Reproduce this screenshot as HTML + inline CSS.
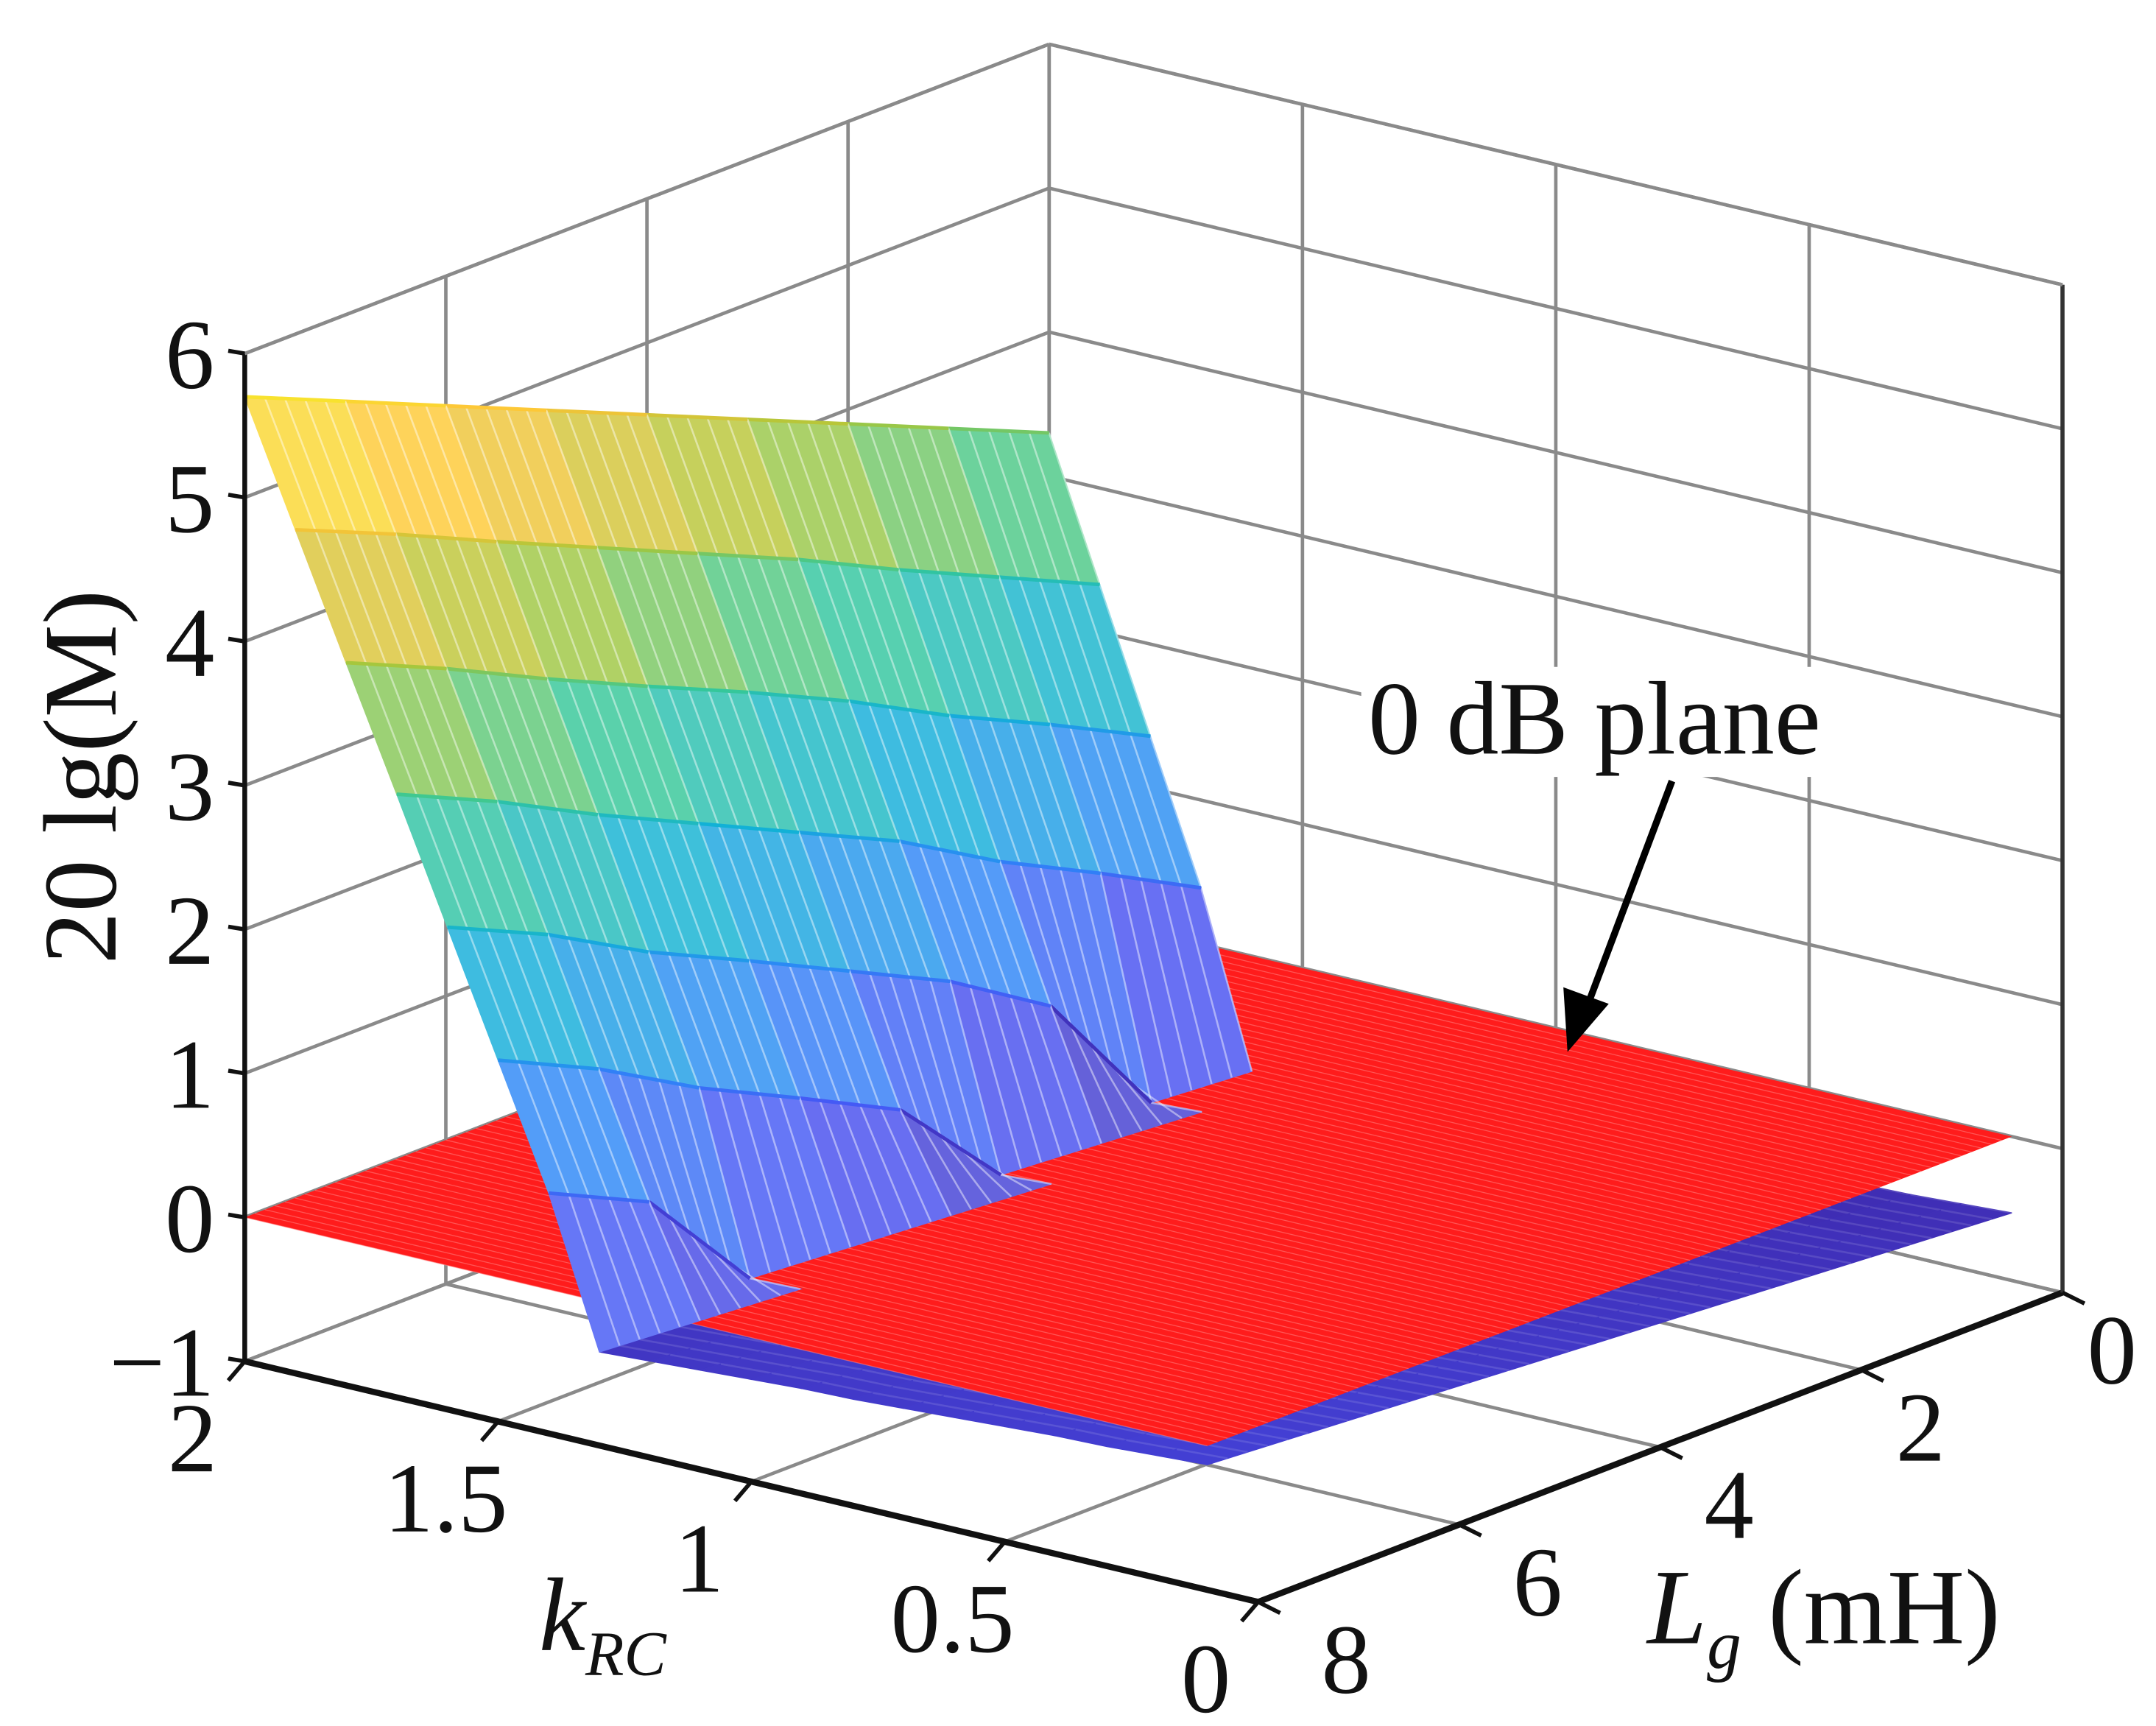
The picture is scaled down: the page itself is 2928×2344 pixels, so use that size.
<!DOCTYPE html>
<html><head><meta charset="utf-8"><style>
html,body{margin:0;padding:0;background:#fff;}
svg{display:block;}
text{font-family:"Liberation Serif",serif;fill:#111;}
</style></head><body>
<svg id="chart" width="2928" height="2344" viewBox="0 0 1568 1255.2" xmlns="http://www.w3.org/2000/svg">
<g id="grid"></g>
<g id="surf"></g>
<g id="axes"></g>
<text transform="translate(84,565) rotate(-90)" text-anchor="middle" font-size="76">20 lg(M)</text>
<text x="392" y="1200" font-size="76" font-style="italic">k<tspan font-size="46" dy="18">RC</tspan></text>
<text x="1198" y="1195" font-size="78"><tspan font-style="italic">L</tspan><tspan font-style="italic" font-size="50" dy="18">g</tspan><tspan dy="-18"> (mH)</tspan></text>
<rect x="990" y="485" width="345" height="80" fill="#fff"/>
<text x="995" y="548" font-size="76">0 dB plane</text>
<line x1="1216" y1="568" x2="1155" y2="730" stroke="#000" stroke-width="5"/>
<polygon points="1140,765 1137,718 1170,730" fill="#000"/>
</svg>
<script>
const kVals=[0.1,0.2,0.3,0.4,0.5,0.6,0.7,0.8,0.9,1.0,1.1,1.2,1.3,1.4,1.5,1.6,1.7,1.8,1.9,2.0];
const LVals=[0,1,2,3,4,5,6,7,8];
// zData[i][j] : L = LVals[i], k = kVals[j]
const zData=[
[-.53,-.55,-.57,-.58,-.60,-.62,-.64,-.66,-.67,-.69,-.71,-.73,-.75,-.76,-.78,-.80,.39,1.36,2.33,3.3],
[-.48,-.50,-.52,-.53,-.55,-.57,-.59,-.61,-.62,-.64,-.66,-.68,-.70,-.71,-.73,-.75,.76,1.71,2.65,3.6],
[-.43,-.45,-.47,-.48,-.50,-.52,-.54,-.56,-.57,-.59,-.61,-.63,-.65,-.66,-.68,.19,1.11,2.04,2.97,3.9],
[-.38,-.40,-.42,-.43,-.45,-.47,-.49,-.51,-.52,-.54,-.56,-.58,-.60,-.61,-.63,.63,1.52,2.41,3.31,4.2],
[-.33,-.35,-.37,-.38,-.40,-.42,-.44,-.46,-.47,-.49,-.51,-.53,-.55,-.56,.09,.97,1.85,2.74,3.62,4.5],
[-.28,-.30,-.32,-.33,-.35,-.37,-.39,-.41,-.42,-.44,-.46,-.48,-.50,-.51,.44,1.31,2.18,3.05,3.93,4.8],
[-.23,-.25,-.27,-.28,-.30,-.32,-.34,-.36,-.37,-.39,-.41,-.43,-.45,-.46,.78,1.64,2.51,3.37,4.24,5.1],
[-.18,-.20,-.22,-.23,-.25,-.27,-.29,-.31,-.32,-.34,-.36,-.38,-.40,.34,1.18,2.03,2.87,3.71,4.56,5.4],
[-.13,-.15,-.17,-.18,-.20,-.22,-.24,-.26,-.27,-.29,-.31,-.33,-.35,.67,1.51,2.35,3.19,4.02,4.86,5.7]
];
const zTicks=[6,5,4,3,2,1,0,-1];
const zTickLabels=["6","5","4","3","2","1","0","\u22121"];
const kTicks=[2,1.5,1,0.5,0];
const kTickLabels=["2","1.5","1","0.5","0"];
const LTicks=[8,6,4,2,0];
const LTickLabels=["8","6","4","2","0"];
const planeZ=0;

const NS="http://www.w3.org/2000/svg";
function P(k,L,z){const u=(2-k)/2,v=(8-L)/8;return [178+737*u+585*v, 990+175*u-225*v-(z+1)*104.7];}
function mk(tag,attrs,parent){const e=document.createElementNS(NS,tag);for(const a in attrs)e.setAttribute(a,attrs[a]);parent.appendChild(e);return e;}
const grid=document.getElementById('grid'),surf=document.getElementById('surf'),axes=document.getElementById('axes');
const G='#8a8a8a';
function ln(a,b,parent,col,w,name){const e=mk('line',{x1:a[0],y1:a[1],x2:b[0],y2:b[1],stroke:col,'stroke-width':w},parent);

return e;}
for(const z of zTicks){ln(P(2,8,z),P(2,0,z),grid,G,2.5,'grid-line-z-left-wall');ln(P(2,0,z),P(0,0,z),grid,G,2.5,'grid-line-z-back-wall');}
for(const L of LTicks){ln(P(2,L,-1),P(2,L,6),grid,G,2.5,'grid-line-l-left-wall');ln(P(2,L,-1),P(0,L,-1),grid,G,2.5,'grid-line-l-floor');}
for(const k of kTicks){ln(P(k,0,-1),P(k,0,6),grid,G,2.5,'grid-line-k-back-wall');ln(P(k,0,-1),P(k,8,-1),grid,G,2.5,'grid-line-k-floor');}
const par=[[0.2422,0.1504,0.6603],[0.2810,0.3228,0.9579],[0.1786,0.5289,0.9682],[0.0689,0.6948,0.8394],[0.2161,0.7843,0.5923],[0.6720,0.7793,0.2227],[0.9970,0.7659,0.2199],[0.9657,0.9309,0.1639],[0.9769,0.9839,0.0805]];
function cmap(z,wm){let t=(z+1)/7.6;t=Math.max(0,Math.min(1,t))*(par.length-1);const i=Math.min(par.length-2,Math.floor(t)),f=t-i;
const c=par[i].map((v,q)=>v+(par[i+1][q]-v)*f).map(v=>Math.round(255*(v+(1-v)*wm)));return `rgb(${c[0]},${c[1]},${c[2]})`;}
const quads=[];
for(let i=0;i<LVals.length-1;i++)for(let j=0;j<kVals.length-1;j++){
 const zs=[zData[i][j],zData[i][j+1],zData[i+1][j+1],zData[i+1][j]];
 const ks=[kVals[j],kVals[j+1],kVals[j+1],kVals[j]],Ls=[LVals[i],LVals[i],LVals[i+1],LVals[i+1]];
 const d=(kVals[j]+kVals[j+1])/4+(8-(LVals[i]+LVals[i+1])/2)/8;
 quads.push({zs,ks,Ls,d,i,j,pos:Math.max(...zs)>planeZ});}
function drawQuad(q){const pts=q.ks.map((k,n)=>P(k,q.Ls[n],q.zs[n]));const zm=q.zs.reduce((a,b)=>a+b)/4;
 const wm=q.pos?0.18:0.0;
 const p=mk('polygon',{points:pts.map(p=>p.join(',')).join(' '),fill:cmap(q.pos?zm:zm-0.3,wm),stroke:cmap(q.pos?zm:zm-0.3,wm),'stroke-width':0.8},surf);
 
 
 for(let s=0;s<5;s++){const f=s/5;const a=[pts[0][0]+(pts[3][0]-pts[0][0])*f,pts[0][1]+(pts[3][1]-pts[0][1])*f],b=[pts[1][0]+(pts[2][0]-pts[1][0])*f,pts[1][1]+(pts[2][1]-pts[1][1])*f];
  ln(a,b,surf,q.pos?'rgba(255,255,255,0.45)':'rgba(255,255,255,0.12)',1.4,'surface-hatch');}
 if(q.pos) ln(pts[1],pts[2],surf,cmap(q.zs[1],0),2.6,'surface-mesh-line');}
quads.filter(q=>!q.pos).sort((a,b)=>b.d-a.d).forEach(drawQuad);
const c=[P(kVals[0],0,planeZ),P(2,0,planeZ),P(2,8,planeZ),P(kVals[0],8,planeZ)];
const plane=mk('polygon',{points:c.map(p=>p.join(',')).join(' '),fill:'#ff1c1c'},surf);


for(let L=0.1;L<8;L+=0.1){ln(P(kVals[0],L,planeZ),P(2,L,planeZ),surf,'rgba(255,140,140,0.5)',0.7,'plane-mesh-line');}
quads.filter(q=>q.pos).sort((a,b)=>b.d-a.d).forEach(drawQuad);
ln(P(2,8,-1),P(2,8,6),axes,'#111',3.5,'z-axis-line');
ln(P(2,8,-1),P(0,8,-1),axes,'#111',4.5,'k-axis-line');
ln(P(0,8,-1),P(0,0,-1),axes,'#111',4.5,'l-axis-line');
ln(P(0,0,-1),P(0,0,6),axes,'#333',3,'right-box-edge');
ln(P(2,8,6),P(2,0,6),axes,G,2.5,'top-box-edge-left');
ln(P(2,0,6),P(0,0,6),axes,G,2.5,'top-box-edge-right');
zTicks.forEach((z,n)=>{const p=P(2,8,z);ln(p,[p[0]-12,p[1]-2],axes,'#111',3,'z-tick');
 const t=mk('text',{x:p[0]-22,y:p[1]+25,'text-anchor':'end','font-size':72},axes);t.textContent=zTickLabels[n];
 
 });
kTicks.forEach((k,n)=>{const p=P(k,8,-1);ln(p,[p[0]-12,p[1]+14],axes,'#111',3,'k-tick');
 const t=mk('text',{x:p[0]-38,y:p[1]+80,'text-anchor':'middle','font-size':72},axes);t.textContent=kTickLabels[n];
 
 });
LTicks.forEach((L,n)=>{const p=P(0,L,-1);ln(p,[p[0]+16,p[1]+8],axes,'#111',3,'l-tick');
 const t=mk('text',{x:p[0]+64-n*7,y:p[1]+66,'text-anchor':'middle','font-size':72},axes);t.textContent=LTickLabels[n];
 
 });
</script>
</body></html>
